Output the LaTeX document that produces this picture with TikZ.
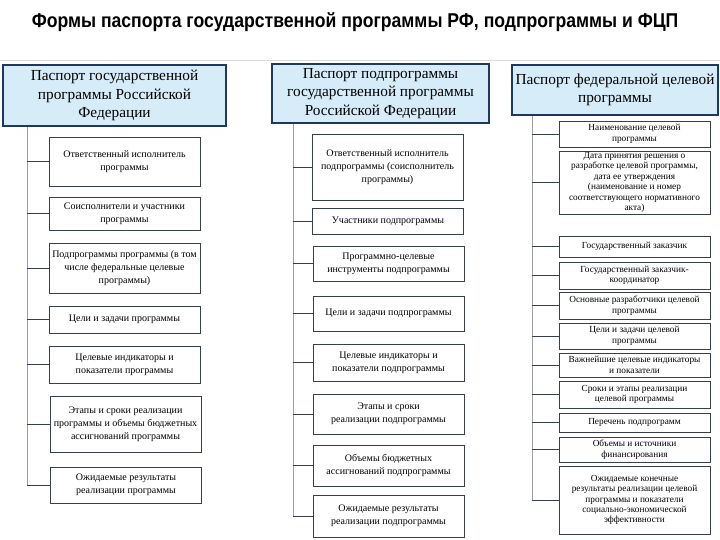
\documentclass[tikz,border=0pt]{standalone}
\usepackage{fontspec}
\setmainfont{Liberation Serif}
\newfontfamily\titlefont[FakeStretch=0.88]{Liberation Sans}
\usetikzlibrary{positioning, calc}
\definecolor{hdrfill}{RGB}{214,236,249}
\definecolor{hdrline}{RGB}{31,56,96}
\definecolor{boxline}{RGB}{55,62,82}

\begin{document}
\begin{tikzpicture}[x=1pt, y=-1pt,
    hdr/.style={draw=hdrline, line width=2.2pt, fill=hdrfill, align=center,
    inner sep=1pt, font=\fontsize{15.3}{18.5}\selectfont},
    item/.style={draw=boxline, line width=0.9pt, fill=white, align=center,
    inner sep=1pt, minimum width=151pt,
    font=\fontsize{10}{12.8}\selectfont},
    small/.style={font=\fontsize{9.3}{10.4}\selectfont},
    spine/.style={draw=gray!75, line width=0.8pt},
    branch/.style={draw=boxline, line width=0.9pt}]
  \useasboundingbox (0,0) rectangle (720,540);
  \node[font=\titlefont\bfseries\fontsize{20}{24}\selectfont] (title) at (355,22)
    {Формы паспорта государственной программы РФ, подпрограммы и ФЦП};
  \draw[gray!30] (0,60) -- (720,60);

  % state programme
  \node[hdr, minimum width=223pt, minimum height=61pt] (h1) at (114.5,95.5)
    {Паспорт государственной\\программы Российской\\Федерации};
  \coordinate (s1) at (27,0);
  \node[item, minimum height=49pt] (a1) at (124.5,161.5) {Ответственный исполнитель\\программы};
  \node[item, minimum height=33pt] (a2) at (124.5,213.5) {Соисполнители и участники\\программы};
  \node[item, minimum height=50pt] (a3) at (124.5,268) {Подпрограммы программы (в том\\числе федеральные целевые\\программы)};
  \node[item, minimum height=27pt] (a4) at (124.5,319.5) {Цели и задачи программы};
  \node[item, minimum height=37pt] (a5) at (124.5,364.5) {Целевые индикаторы и\\показатели программы};
  \node[item, minimum height=56pt] (a6) at (125.5,424) {Этапы и сроки реализации\\программы и объемы бюджетных\\ассигнований программы};
  \node[item, minimum height=36pt] (a7) at (126,485) {Ожидаемые результаты\\реализации программы};
  \draw[spine] (h1.south -| s1) -- (a7.west -| s1);
  \foreach \i in {1,...,7}
    \draw[branch] (a\i.west) -- (a\i.west -| s1);

  % subprogramme
  \node[hdr, minimum width=217pt, minimum height=59pt] (h2) at (380.5,93.5)
    {Паспорт подпрограммы\\государственной программы\\Российской Федерации};
  \coordinate (s2) at (293,0);
  \node[item, minimum height=66pt] (b1) at (387.5,167) {Ответственный исполнитель\\подпрограммы (соисполнитель\\программы)};
  \node[item, minimum height=26pt] (b2) at (388,221) {Участники подпрограммы};
  \node[item, minimum height=35pt] (b3) at (388.5,263.5) {Программно-целевые\\инструменты подпрограммы};
  \node[item, minimum height=35pt] (b4) at (388.5,313.5) {Цели и задачи подпрограммы};
  \node[item, minimum height=37pt] (b5) at (388.5,362.5) {Целевые индикаторы и\\показатели подпрограммы};
  \node[item, minimum height=40pt] (b6) at (388.5,414) {Этапы и сроки\\реализации подпрограммы};
  \node[item, minimum height=41pt] (b7) at (388.5,465.5) {Объемы бюджетных\\ассигнований подпрограммы};
  \node[item, minimum height=42pt] (b8) at (388.5,516) {Ожидаемые результаты\\реализации подпрограммы};
  \draw[spine] (h2.south -| s2) -- (b8.west -| s2);
  \foreach \i in {1,...,8}
    \draw[branch] (b\i.west) -- (b\i.west -| s2);

  % federal target programme
  \node[hdr, minimum width=206pt, minimum height=50pt] (h3) at (615,90)
    {Паспорт федеральной целевой\\программы};
  \coordinate (s3) at (532,0);
  \node[item, small, minimum height=26pt] (c1) at (634.5,134) {Наименование целевой\\программы};
  \node[item, small, minimum height=63pt] (c2) at (634.5,182.5) {Дата принятия решения о\\разработке целевой программы,\\дата ее утверждения\\(наименование и номер\\соответствующего нормативного\\акта)};
  \node[item, small, minimum height=21pt] (c3) at (634.5,246.5) {Государственный заказчик};
  \node[item, small, minimum height=27pt] (c4) at (634.5,275.5) {Государственный заказчик-\\координатор};
  \node[item, small, minimum height=27pt] (c5) at (634.5,305.5) {Основные разработчики целевой\\программы};
  \node[item, small, minimum height=26pt] (c6) at (634.5,336) {Цели и задачи целевой\\программы};
  \node[item, small, minimum height=24pt] (c7) at (634.5,365) {Важнейшие целевые индикаторы\\и показатели};
  \node[item, small, minimum height=27pt] (c8) at (634.5,394.5) {Сроки и этапы реализации\\целевой программы};
  \node[item, small, minimum height=19pt] (c9) at (634.5,422.5) {Перечень подпрограмм};
  \node[item, small, minimum height=25pt] (c10) at (634.5,449.5) {Объемы и источники\\финансирования};
  \node[item, small, minimum height=68pt] (c11) at (634.5,500) {Ожидаемые конечные\\результаты реализации целевой\\программы и показатели\\социально-экономической\\эффективности};
  \draw[spine] (h3.south -| s3) -- (c11.west -| s3);
  \foreach \i in {1,...,11}
    \draw[branch] (c\i.west) -- (c\i.west -| s3);
\end{tikzpicture}
\end{document}
